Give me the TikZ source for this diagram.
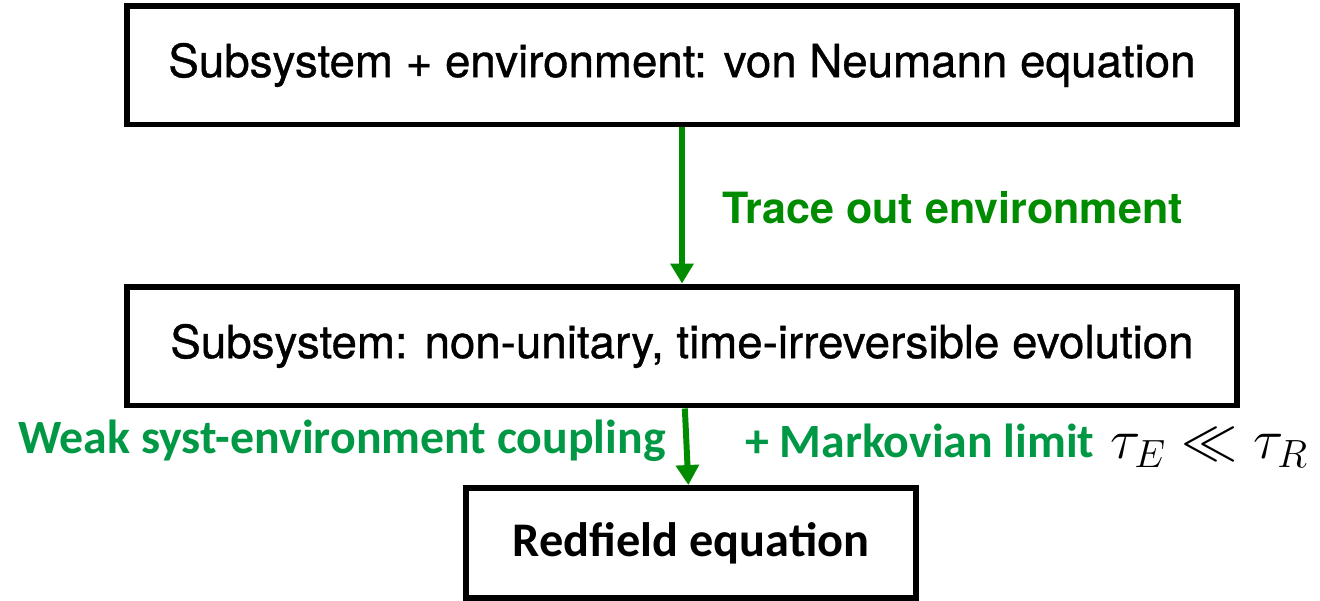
\RequirePackage{fix-cm}
\documentclass[tikz,border=0pt]{standalone}
\usepackage{amsmath, amssymb}
\usepackage{fontspec}
\setmainfont{TeX Gyre Heros}
\newfontfamily\boxfont[FakeBold=0.8]{TeX Gyre Heros}
\newfontfamily\calibrifont{Carlito}
\usepackage{xcolor}
\usetikzlibrary{arrows.meta, positioning}
\definecolor{arrowgreen}{RGB}{0,140,0}
\definecolor{labelgreen}{RGB}{0,152,68}

\begin{document}
\begin{tikzpicture}[
    x=0.02cm, y=-0.02cm,
    stage/.style={draw, line width=3.4pt, fill=white, align=center, inner sep=0pt, minimum width=22.2cm, minimum height=2.38cm, font=\boxfont\fontsize{26}{30}\selectfont},
    result/.style={draw, line width=3.4pt, fill=white, align=center, inner sep=0pt, minimum width=9.0cm, minimum height=2.2cm, font=\calibrifont\bfseries\fontsize{27.5}{32}\selectfont},
    arrow/.style={-{Triangle[length=0.4cm, width=0.45cm]}, line width=3.4pt, arrowgreen},
    steplabel/.style={text=arrowgreen, font=\bfseries\fontsize{24.5}{28}\selectfont, inner sep=0pt},
    limitlabel/.style={text=labelgreen, font=\calibrifont\bfseries\fontsize{27.2}{32}\selectfont, inner sep=0pt}
]

\useasboundingbox (0,0) rectangle (1320,600);

\node[stage] (full) at (682,65) {Subsystem + environment: von Neumann equation};
\node[stage] (sub) at (682,346) {Subsystem: non-unitary, time-irreversible evolution};
\node[result] (redfield) at (691,543) {Redfield equation};

\draw[arrow] (full) -- (sub);
\draw[arrow] (sub) -- (redfield);

\node[steplabel, anchor=west] (trace) at (722,208) {Trace out environment};
\node[limitlabel, anchor=east] (weak) at (666,441) {Weak syst-environment coupling};
\node[limitlabel, anchor=west] (markov) at (745,441) {+ Markovian limit};
\node[anchor=west, inner sep=0pt, font=\fontsize{32}{38}\selectfont] (scales) at (1110,448) {$\tau_E \ll \tau_R$};

\end{tikzpicture}
\end{document}
